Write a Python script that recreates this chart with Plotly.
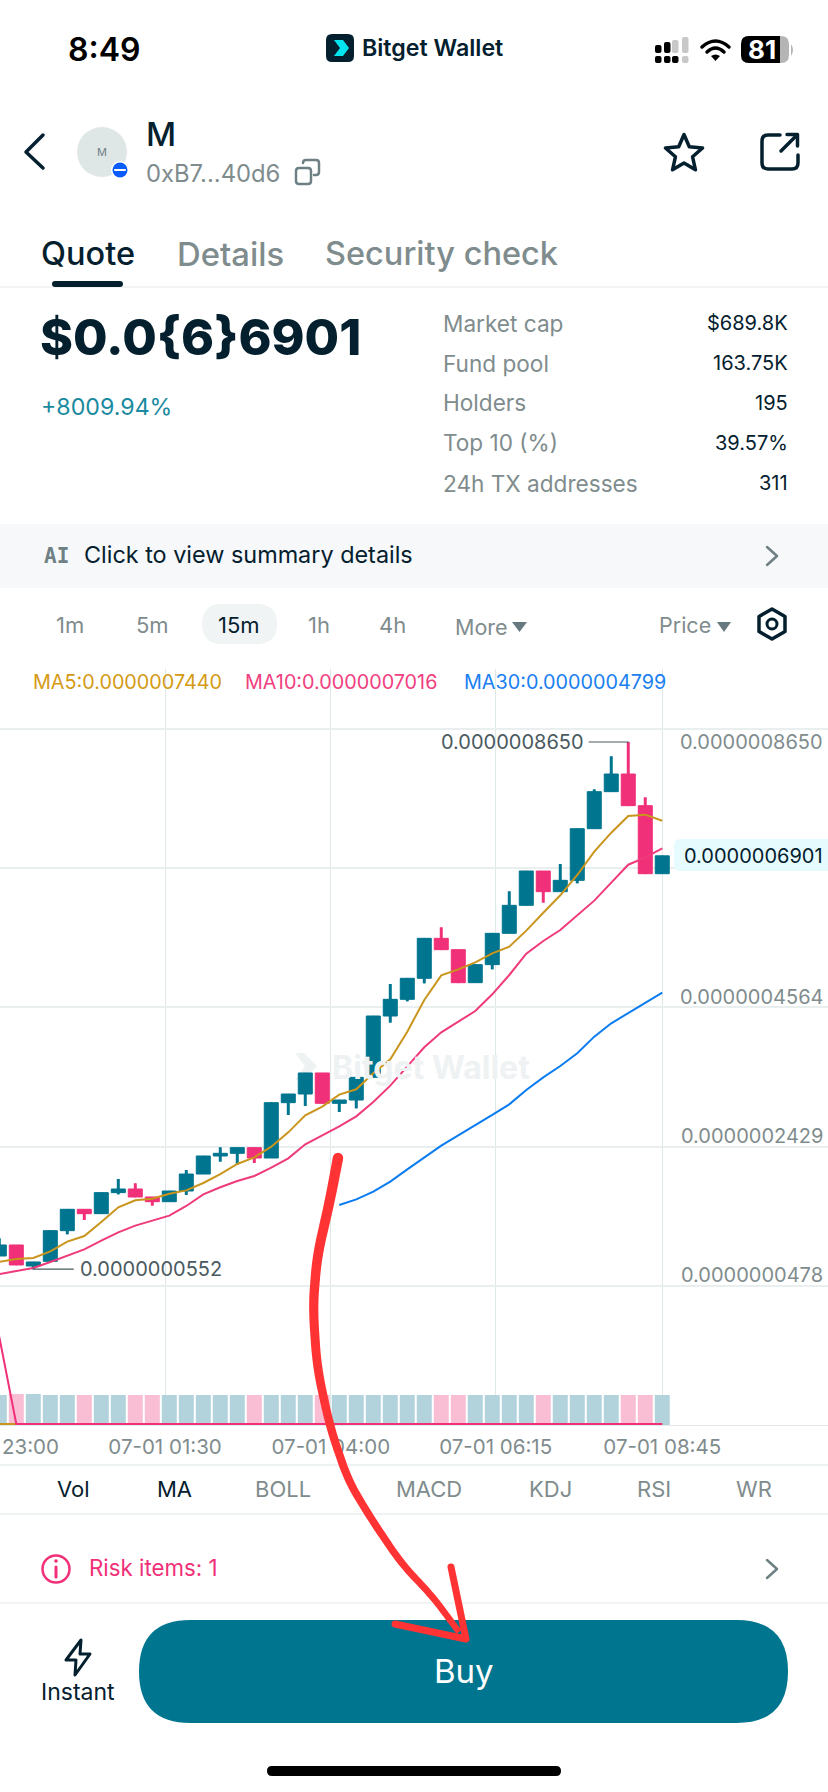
import numpy as np
import plotly.graph_objects as go

# ---------- data (prices in units of 1e-10) ----------
opens = [755,924,601,673,1144,1472,1405,1728,1784,1661,1589,1753,2014,2291,2332,2419,2260,3110,3243,3566,
         3100,3151,3499,4441,4697,5020,5634,5460,4953,5230,5711,6141,6668,6351,6525,7318,7887,8158,7672,6627]
closes = [924,617,663,1144,1472,1405,1728,1784,1661,1589,1753,2014,2291,2332,2419,2260,3110,3243,3566,3100,
          3151,3499,4441,4697,5020,5634,5460,4953,5230,5711,6141,6668,6351,6525,7318,7887,8158,7672,6627,6901]
highs = [1026,924,663,1144,1472,1472,1728,1938,1871,1661,1753,2076,2291,2424,2419,2419,3110,3243,3566,3566,
         3151,3499,4441,4932,5020,5634,5803,5460,5230,5711,6356,6668,6668,6776,7318,7922,8430,8650,7800,6901]
lows = [755,617,552,673,1088,1308,1405,1702,1661,1528,1589,1692,2014,2204,2163,2183,2260,2921,3059,3100,
        2967,3023,3499,4339,4667,4943,5460,4953,4953,5158,5711,6141,6182,6351,6479,7318,7887,7672,6627,6627]
ma5 = [663,709,724,826,975,1062,1277,1502,1610,1635,1712,1763,1876,2014,2168,2270,2434,2654,2915,3049,
       3233,3315,3561,3776,4200,4687,5066,5158,5266,5404,5506,5752,6028,6295,6607,6965,7257,7513,7534,7440]
ma10 = [478,519,571,663,760,857,990,1118,1221,1298,1374,1523,1702,1810,1907,1984,2112,2255,2470,2608,
        2747,2900,3120,3371,3663,3960,4190,4354,4518,4774,5071,5398,5593,5762,5992,6213,6489,6765,6878,7016]
ma30 = [None]*20 + [1538,1625,1743,1897,2086,2270,2450,2608,2762,2921,3084,3305,3499,3673,3868,4124,4329,4482,4636,4799]
volume = [30,31,31]+[30]*37
vol_ma10 = [88]+[1]*39
vol_ma5 = [1]*40
candle_x = list(range(40))
grid_x = [0.1,9.75,19.5,29.2,39,48.7]
time_labels = ["","07-01 01:30","07-01 04:00","07-01 06:15","07-01 08:45",""]
first_time_label = "23:00"
grid_y = [8850,6715,4580,2429,294]
axis_labels = ["0.0000008650","0.0000004564","0.0000002429","0.0000000478"]
axis_label_pos = [8650,4580,2429,294]

TEAL="#00758f"; PINK="#f03078"; GOLD="#c9951c"; BLUE="#0a7cf0"; DARK="#04202e"; GRAY="#7f8c8d"
FONT="Inter"
W,H=828,1792
fx=lambda x:x/W
fy=lambda y:1-y/H

fig=go.Figure()
fig.add_trace(go.Candlestick(x=candle_x,open=opens,high=highs,low=lows,close=closes,
    increasing=dict(line=dict(color=TEAL,width=1),fillcolor=TEAL),
    decreasing=dict(line=dict(color=PINK,width=1),fillcolor=PINK),whiskerwidth=0,showlegend=False,hoverinfo="skip"))
for col,sel in ((TEAL,lambda o,c:c>=o),(PINK,lambda o,c:c<o)):
    idx=[i for i in candle_x if sel(opens[i],closes[i])]
    fig.add_trace(go.Scatter(x=idx,y=[closes[i] for i in idx],mode="markers",marker=dict(size=1,color=col),
        error_y=dict(type="data",symmetric=False,array=[highs[i]-closes[i] for i in idx],
                     arrayminus=[closes[i]-lows[i] for i in idx],width=0,thickness=3,color=col),
        showlegend=False,hoverinfo="skip"))
for vals,col in ((ma5,GOLD),(ma10,"#ef3a7b"),(ma30,BLUE)):
    fig.add_trace(go.Scatter(x=candle_x,y=vals,mode="lines",line=dict(color=col,width=2),showlegend=False,hoverinfo="skip"))
fig.add_trace(go.Bar(x=candle_x,y=volume,yaxis="y2",width=15/17,
    marker=dict(color=["#b3d3dc" if c>=o else "#f9bed4" for o,c in zip(opens,closes)],line=dict(width=0)),
    showlegend=False,hoverinfo="skip"))
fig.add_trace(go.Scatter(x=candle_x,y=vol_ma5,yaxis="y2",mode="lines",line=dict(color=GOLD,width=2),showlegend=False,hoverinfo="skip"))
fig.add_trace(go.Scatter(x=candle_x,y=vol_ma10,yaxis="y2",mode="lines",line=dict(color=PINK,width=2),showlegend=False,hoverinfo="skip"))

shapes=[]; ann=[]
def T(x,y,text,size,color=DARK,anchor="left",weight=400,family=FONT):
    ann.append(dict(x=fx(x),y=fy(y),xref="paper",yref="paper",text=text,showarrow=False,xanchor=anchor,yanchor="middle",
        borderpad=0,font=dict(family=family,size=size,color=color,weight=weight)))
def path(cmds):
    out=[]
    for c in cmds:
        out.append(c[0])
        v=c[1:]
        for i in range(0,len(v),2):
            out.append(f"{fx(v[i]):.5f},{fy(v[i+1]):.5f}")
    return " ".join(out)
def S(cmds,stroke=None,width=0,fill=None,layer="above"):
    shapes.append(dict(type="path",xref="paper",yref="paper",path=path(cmds),layer=layer,
        line=dict(color=stroke or "rgba(0,0,0,0)",width=width),fillcolor=fill or "rgba(0,0,0,0)"))
def RR(x0,y0,x1,y1,r,**k):
    S([("M",x0+r,y0),("L",x1-r,y0),("Q",x1,y0,x1,y0+r),("L",x1,y1-r),("Q",x1,y1,x1-r,y1),
       ("L",x0+r,y1),("Q",x0,y1,x0,y1-r),("L",x0,y0+r),("Q",x0,y0,x0+r,y0),("Z",)],**k)
def C(cx,cy,r,stroke=None,width=0,fill=None):
    shapes.append(dict(type="circle",xref="paper",yref="paper",x0=fx(cx-r),x1=fx(cx+r),y0=fy(cy+r),y1=fy(cy-r),layer="above",
        line=dict(color=stroke or "rgba(0,0,0,0)",width=width),fillcolor=fill or "rgba(0,0,0,0)"))
def HL(y,color="#e9eeee",width=1.5):
    S([("M",0,y),("L",828,y)],stroke=color,width=width)

# status bar
T(103.5,49,"8:49",32,"#000000","center",600)
RR(326,34,354,62,6,fill=DARK)
S([("M",334,40),("L",343,40),("L",349,48),("L",343,56),("L",334,56),("L",340,48),("Z",)],fill="#00e5f0")
T(361,48,"Bitget Wallet",23.2,DARK,"left",600)
for x,top,c in ((655,45,"#000"),(664,42,"#000"),(672,40,"#c8c8c8"),(682,37,"#c8c8c8")):
    RR(x,top,x+6.5,53,2,fill=c)
for x,c in ((655,"#000"),(664,"#000"),(672,"#000"),(682,"#c8c8c8")):
    RR(x,56,x+6.5,63,2,fill=c)
S([("M",702,47),("Q",715.5,35,729,47)],stroke="#000",width=3.5)
S([("M",707,52),("Q",715.5,44,724,52)],stroke="#000",width=3.5)
S([("M",711,56),("Q",715.5,53,720,56),("L",715.5,61),("Z",)],fill="#000")
RR(741,36,789,63,8,fill="#b5b5b5")
S([("M",749,36),("L",780,36),("L",780,63),("L",749,63),("Q",741,63,741,55),("L",741,44),("Q",741,36,749,36),("Z",)],fill="#000")
S([("M",791,44),("Q",795,50,791,56),("Z",)],fill="#b5b5b5")
T(762,50,"81",26,"#ffffff","center",700)

# header
S([("M",43,135),("L",26,152),("L",43,168)],stroke=DARK,width=3.5)
C(102,152,25,fill="#dfe6e6")
T(102,152,"M",11,"#6f8085","center")
C(120,170,9,fill="#ffffff"); C(120,170,7.5,fill="#0a5cff")
S([("M",115,170),("L",125,170)],stroke="#ffffff",width=2)
T(145,134,"M",33,DARK,"left",500)
T(145,173,"0xB7...40d6",23.8,GRAY)
RR(296,168,311,184,3,stroke="#6f8085",width=2.5)
S([("M",303,163),("Q",303,160,306,160),("L",316,160),("Q",319,160,319,163),("L",319,172),("Q",319,175,316,175),("L",314,175)],stroke="#6f8085",width=2.5)
ang=np.deg2rad(np.arange(10)*36-90)
star=[("M" if i==0 else "L",684+(19.5 if i%2==0 else 9)*np.cos(a),154+(19.5 if i%2==0 else 9)*np.sin(a)) for i,a in enumerate(ang)]+[("Z",)]
S(star,stroke=DARK,width=3.5)
S([("M",780,135),("L",768,135),("Q",762,135,762,141),("L",762,163),("Q",762,169,768,169),("L",792,169),("Q",798,169,798,163),("L",798,155)],stroke=DARK,width=3.5)
S([("M",781,151),("L",797,135)],stroke=DARK,width=3.5)
S([("M",787,134.5),("L",797.5,134.5),("L",797.5,146)],stroke=DARK,width=3.5)
T(40,254,"Quote",32.5,DARK,"left",500)
T(176,254,"Details",32.8,GRAY,"left",500)
T(324,254,"Security check",32.5,GRAY,"left",500)
HL(287,"#eef1f1",1.5)
RR(52,281,123,287,3,fill=DARK)

# price block
T(39,337,"$0.0{6}6901",50,DARK,"left",800)
T(40,407,"+8009.94%",23.2,"#1a8aa0")
for y,l,v in ((323,"Market cap","$689.8K"),(363,"Fund pool","163.75K"),(403,"Holders","195"),(443,"Top 10 (%)","39.57%"),(483,"24h TX addresses","311")):
    T(442,y,l,22.6,GRAY); T(789,y,v,20,DARK,"right")

# AI band
S([("M",0,524),("L",828,524),("L",828,588),("L",0,588),("Z",)],fill="#f6f8fa")
T(43,556,"AI",21,"#6f8085","left",700,"DejaVu Sans Mono")
T(83,554,"Click to view summary details",23.4,DARK)
S([("M",767,547),("L",777,556),("L",767,565)],stroke="#6f8085",width=2.5)

# period row
RR(202,604,277,644,20,fill="#f1f4f5")
for x,t,c in ((70,"1m",GRAY),(152,"5m",GRAY),(239,"15m",DARK),(319,"1h",GRAY),(392,"4h",GRAY)):
    T(x,625,t,22,c,"center")
T(481,627,"More",21.5,GRAY,"center")
S([("M",512,622),("L",527,622),("L",519.5,632),("Z",)],fill="#66797f")
T(685,625,"Price",21.5,GRAY,"center")
S([("M",717,622),("L",731,622),("L",724,632),("Z",)],fill="#66797f")
hexa=[("M" if i==0 else "L",772+15*np.sin(a),624-15*np.cos(a)) for i,a in enumerate(np.deg2rad(np.arange(6)*60))]+[("Z",)]
S(hexa,stroke=DARK,width=3.5)
C(772,624,5,stroke=DARK,width=3)

# legend
T(32,682,"MA5:0.0000007440",19.8,"#d49a14")
T(244,682,"MA10:0.0000007016",19.8,"#f04080")
T(463,682,"MA30:0.0000004799",19.8,"#1a80f0")

# price axis labels (in data coordinates)
for (t,p,sh) in zip(axis_labels,axis_label_pos,(0,10,11,11)):
    ann.append(dict(x=fx(824),xref="paper",y=p,yref="y",yshift=sh,text=t,showarrow=False,xanchor="right",yanchor="middle",borderpad=0,
        font=dict(family=FONT,size=20,color=GRAY)))
# last price tag
S([("M",680,839),("L",828,839),("L",828,871),("L",680,871),("Q",674,871,674,865),("L",674,845),("Q",674,839,680,839),("Z",)],fill="#e6fbfd")
ann.append(dict(x=fx(824),xref="paper",y=closes[-1],yref="y",yshift=0,text="0.0000006901",showarrow=False,xanchor="right",yanchor="middle",borderpad=0,
    font=dict(family=FONT,size=20,color=DARK)))
# high / low callouts
hi=int(np.argmax(highs)); lo=int(np.argmin(lows))
shapes.append(dict(type="line",xref="x",yref="y",x0=hi-2.3,x1=hi,y0=highs[hi],y1=highs[hi],line=dict(color="#4a5a5f",width=1.2),layer="above"))
shapes.append(dict(type="line",xref="x",yref="y",x0=lo,x1=lo+2.35,y0=lows[lo],y1=lows[lo],line=dict(color="#4a5a5f",width=1.2),layer="above"))
ann.append(dict(x=hi-2.52,xref="x",y=highs[hi],yref="y",text="0.0000008650",showarrow=False,xanchor="right",yanchor="middle",borderpad=0,font=dict(family=FONT,size=20,color="#4a5a5f")))
ann.append(dict(x=lo+2.68,xref="x",y=lows[lo],yref="y",text="0.0000000552",showarrow=False,xanchor="left",yanchor="middle",borderpad=0,font=dict(family=FONT,size=20,color="#4a5a5f")))
# watermark
S([("M",295,1053),("L",304,1053),("L",317,1066),("L",304,1080),("L",295,1080),("L",305,1066),("Z",)],fill="#eef2f3",layer="below")
ann.append(dict(x=fx(331),y=fy(1067),xref="paper",yref="paper",text="Bitget Wallet",showarrow=False,xanchor="left",yanchor="middle",borderpad=0,
    font=dict(family=FONT,size=32,color="#eef2f3",weight=700)))
# first time label (only its time part is on screen)
T(60,1446,first_time_label,20.5,GRAY,"right")

# bottom rows
HL(1465); HL(1514); HL(1603,"#eef1f1")
for x,t,c in ((73,"Vol",DARK),(174,"MA",DARK),(283,"BOLL",GRAY),(429,"MACD",GRAY),(550,"KDJ",GRAY),(654,"RSI",GRAY),(754,"WR",GRAY)):
    T(x,1489,t,22,c,"center")
C(56,1569,13.5,stroke=PINK,width=2.5)
S([("M",56,1567),("L",56,1577)],stroke=PINK,width=3)
C(56,1561,1.8,fill=PINK)
T(88,1567,"Risk items: 1",22.3,PINK)
S([("M",767,1560),("L",777,1569),("L",767,1578)],stroke="#6f8085",width=2.5)
RR(139,1620,788,1723,51.5,fill=TEAL)
T(464,1671,"Buy",33,"#ffffff","center")
S([("M",81,1640),("L",66,1660),("L",76,1660),("L",75,1675),("L",90,1654),("L",80,1654),("Z",)],stroke=DARK,width=3)
T(78,1692,"Instant",23,DARK,"center")
RR(267,1766,561,1776,5,fill="#000000")

# red hand-drawn arrow
knots=np.array([(338,1158),(330,1200),(317,1257),(313,1307),(317,1367),(330,1427),(348,1480),(370,1517),(401,1563),(433,1597),(459,1632)],float)
tt=np.linspace(0,len(knots)-1,120)
cx=np.interp(tt,np.arange(len(knots)),knots[:,0]); cy=np.interp(tt,np.arange(len(knots)),knots[:,1])
kk=np.ones(9)/9
cx2=np.r_[cx[0],np.convolve(np.r_[[cx[0]]*4,cx,[cx[-1]]*4],kk,"valid")[1:-1],cx[-1]]
cy2=np.r_[cy[0],np.convolve(np.r_[[cy[0]]*4,cy,[cy[-1]]*4],kk,"valid")[1:-1],cy[-1]]
dx=np.gradient(cx2); dy=np.gradient(cy2); nn=np.hypot(dx,dy)+1e-9
w=np.linspace(5.2,3.2,len(cx2))
left=[(a-b*c/d,e+f*c/d) for a,b,c,d,e,f in zip(cx2,dy,w,nn,cy2,dx)]
right=[(a+b*c/d,e-f*c/d) for a,b,c,d,e,f in zip(cx2,dy,w,nn,cy2,dx)]
poly=left+right[::-1]
RED="#ff3333"
S([("M" if i==0 else "L",p[0],p[1]) for i,p in enumerate(poly)]+[("Z",)],fill=RED)
C(338,1158,5.2,fill=RED)
S([("M",451,1567),("L",466,1639),("L",395,1624)],stroke=RED,width=7)

fig.update_layout(width=W,height=H,autosize=False,margin=dict(l=0,r=0,t=0,b=0),paper_bgcolor="#ffffff",plot_bgcolor="#ffffff",
    showlegend=False,boxgap=0.176,boxgroupgap=0,shapes=shapes,annotations=ann,hovermode=False,
    xaxis=dict(domain=[0,1],range=[0.041,48.75],tickmode="array",tickvals=grid_x,ticktext=time_labels,showgrid=True,gridcolor="#dfe8e8",gridwidth=1,
        zeroline=False,rangeslider=dict(visible=False),showline=True,linecolor="#e4eaea",linewidth=1,ticks="outside",ticklen=3,tickcolor="rgba(0,0,0,0)",
        tickfont=dict(family=FONT,size=20.5,color=GRAY),anchor="y",fixedrange=True),
    yaxis=dict(domain=[(H-1425)/H,(H-669)/H],range=[-1841,9771],tickmode="array",tickvals=grid_y,showticklabels=False,showgrid=True,gridcolor="#e9eeee",gridwidth=1.5,zeroline=False,fixedrange=True),
    yaxis2=dict(domain=[(H-1425)/H,(H-1325)/H],range=[0,100],visible=False,anchor="x",fixedrange=True),
)
post="document.body.style.margin='0';document.documentElement.style.overflow='hidden';document.querySelectorAll('.shapelayer path').forEach(function(p){p.style.strokeLinecap='round';p.style.strokeLinejoin='round';});"
fig.write_html("out.html",post_script=post,config=dict(displayModeBar=False))
